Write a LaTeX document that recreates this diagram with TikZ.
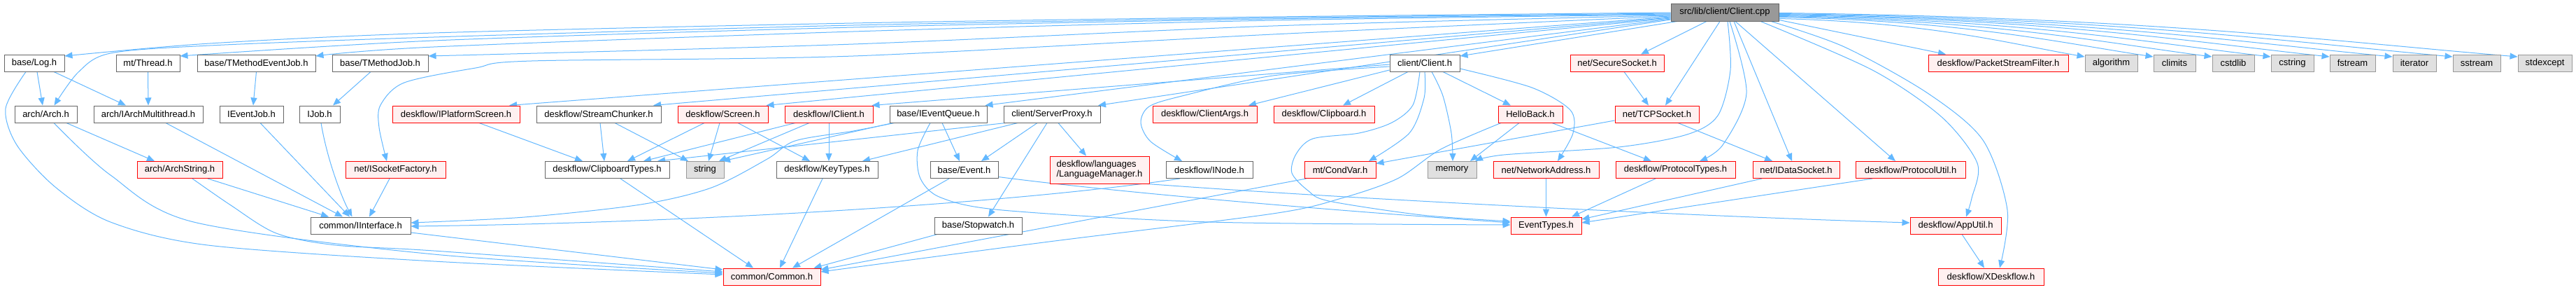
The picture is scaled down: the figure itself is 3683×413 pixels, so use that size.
\documentclass[tikz,border=0pt]{standalone}
\usepackage{fontspec}
\setmainfont{Liberation Sans}
\usetikzlibrary{arrows.meta,backgrounds}
\definecolor{edgecol}{HTML}{63B8FF}
\definecolor{bordgray}{HTML}{666666}
\definecolor{redfill}{HTML}{FFF0F0}
\definecolor{grayfill}{HTML}{E0E0E0}
\definecolor{grayline}{HTML}{999999}
\definecolor{rootfill}{HTML}{999999}
\tikzset{
  box/.style={draw, line width=1pt, minimum height=24pt, inner sep=0pt,
    font=\fontsize{13pt}{14pt}\selectfont, text=black},
  wbox/.style={box, draw=bordgray, fill=white},
  rbox/.style={box, draw=red, fill=redfill},
  gbox/.style={box, draw=grayline, fill=grayfill},
  rootbox/.style={box, draw=bordgray, fill=rootfill, minimum height=25pt},
  edg/.style={draw=edgecol, line width=1pt, -{Triangle[length=11pt,width=9pt]}},
}
\begin{document}
\begin{tikzpicture}[x=1pt,y=-1pt]
\useasboundingbox (0,0) rectangle (3683,413);
% root
\node[rootbox, minimum width=154pt] (root) at (2466,17.5) {src/lib/client/Client.cpp};
% row 1
\node[wbox, minimum width=86pt] (log) at (49,90) {base/Log.h};
\node[wbox, minimum width=91pt] (thread) at (211.5,90) {mt/Thread.h};
\node[wbox, minimum width=169pt] (tmej) at (366.5,90) {base/TMethodEventJob.h};
\node[wbox, minimum width=137pt] (tmj) at (543.5,90) {base/TMethodJob.h};
\node[wbox, minimum width=100pt] (clienth) at (2037,90) {client/Client.h};
\node[rbox, minimum width=134pt] (secsock) at (2312,90) {net/SecureSocket.h};
\node[rbox, minimum width=200pt] (psf) at (2857,90) {deskflow/PacketStreamFilter.h};
\node[gbox, minimum width=75pt] (algorithm) at (3018.5,90) {algorithm};
\node[gbox, minimum width=60pt] (climits) at (3109,90) {climits};
\node[gbox, minimum width=60pt] (cstdlib) at (3193,90) {cstdlib};
\node[gbox, minimum width=61pt] (cstring) at (3277.5,90) {cstring};
\node[gbox, minimum width=65pt] (fstream) at (3363.5,90) {fstream};
\node[gbox, minimum width=62pt] (iterator) at (3452,90) {iterator};
\node[gbox, minimum width=68pt] (sstream) at (3541,90) {sstream};
\node[gbox, minimum width=77pt] (stdexcept) at (3638.5,90) {stdexcept};
% row 2
\node[wbox, minimum width=89pt] (arch) at (65.5,163) {arch/Arch.h};
\node[wbox, minimum width=156pt] (iamt) at (212,163) {arch/IArchMultithread.h};
\node[wbox, minimum width=91pt] (iej) at (359.5,163) {IEventJob.h};
\node[wbox, minimum width=58pt] (ijob) at (457,163) {IJob.h};
\node[rbox, minimum width=182pt] (ips) at (652,163) {deskflow/IPlatformScreen.h};
\node[wbox, minimum width=178pt] (sc) at (856,163) {deskflow/StreamChunker.h};
\node[rbox, minimum width=129pt] (screen) at (1033.5,163) {deskflow/Screen.h};
\node[rbox, minimum width=126pt] (iclient) at (1185,163) {deskflow/IClient.h};
\node[wbox, minimum width=139pt] (ieq) at (1341.5,163) {base/IEventQueue.h};
\node[wbox, minimum width=138pt] (sp) at (1504,163) {client/ServerProxy.h};
\node[rbox, minimum width=149pt] (cargs) at (1722.5,163) {deskflow/ClientArgs.h};
\node[rbox, minimum width=144pt] (clipboard) at (1893,163) {deskflow/Clipboard.h};
\node[rbox, minimum width=92pt] (hello) at (2188,163) {HelloBack.h};
\node[rbox, minimum width=120pt] (tcp) at (2369,163) {net/TCPSocket.h};
% row 3
\node[rbox, minimum width=122pt] (archstr) at (257,242.5) {arch/ArchString.h};
\node[rbox, minimum width=143pt] (isf) at (565.5,242.5) {net/ISocketFactory.h};
\node[wbox, minimum width=178pt] (cbt) at (868,242.5) {deskflow/ClipboardTypes.h};
\node[gbox, minimum width=54pt] (string) at (1008,242.5) {string};
\node[wbox, minimum width=145pt] (kt) at (1182.5,242.5) {deskflow/KeyTypes.h};
\node[wbox, minimum width=97pt] (event) at (1378.5,242.5) {base/Event.h};
\node[rbox, minimum width=142pt, minimum height=39pt, align=left] (lang) at (1572,242.5) {deskflow/languages\\/LanguageManager.h};
\node[wbox, minimum width=124pt] (inode) at (1729,242.5) {deskflow/INode.h};
\node[rbox, minimum width=102pt] (condvar) at (1916,242.5) {mt/CondVar.h};
\node[gbox, minimum width=70pt] (memory) at (2076,242.5) {memory};
\node[rbox, minimum width=151pt] (netaddr) at (2210.5,242.5) {net/NetworkAddress.h};
\node[rbox, minimum width=171pt] (ptypes) at (2395.5,242.5) {deskflow/ProtocolTypes.h};
\node[rbox, minimum width=124pt] (ids) at (2568,242.5) {net/IDataSocket.h};
\node[rbox, minimum width=157pt] (putil) at (2731.5,242.5) {deskflow/ProtocolUtil.h};
% row 4
\node[wbox, minimum width=143pt] (iif) at (515.5,322) {common/IInterface.h};
\node[wbox, minimum width=125pt] (stopwatch) at (1398.5,322) {base/Stopwatch.h};
\node[rbox, minimum width=101pt] (evtypes) at (2210.5,322) {EventTypes.h};
\node[rbox, minimum width=130pt] (apputil) at (2796,322) {deskflow/AppUtil.h};
% row 5
\node[rbox, minimum width=139pt] (common) at (1103.5,395) {common/Common.h};
\node[rbox, minimum width=151pt] (xdf) at (2846.5,395) {deskflow/XDeskflow.h};

\begin{pgfonlayer}{background}
\fill[white] (0,0) rectangle (3683,413);
% ---- root, towards the left
\draw[edg] plot[smooth] coordinates {([yshift=-0.5pt]root.west) (1820,24) (1220,33) (620,47) (300,62) ([yshift=10pt]log.east)};
\draw[edg] plot[smooth] coordinates {([yshift=-1.5pt]root.west) (1820,25.5) (1220,36) (620,53) (300,65) (158,76) (112,103) ([xshift=12pt]arch.north)};
\draw[edg] plot[smooth] coordinates {([yshift=-2.5pt]root.west) (1820,27) (1220,39) (620,58) ([yshift=10pt]thread.east)};
\draw[edg] plot[smooth] coordinates {([yshift=-3.5pt]root.west) (1820,29) (1220,45) (620,67) ([yshift=10pt]tmej.east)};
\draw[edg] plot[smooth] coordinates {([yshift=-4.5pt]root.west) (1820,37) (1220,63) ([yshift=10pt]tmj.east)};
\draw[edg] plot[smooth] coordinates {([yshift=-5.5pt]root.west) (1820,49) (1220,80) (760,87) (680,97) (578,118) (544,150) (542,182) ([xshift=-12.5pt]isf.north)};
\draw[edg] ([yshift=-6.5pt]root.west) -- ([xshift=76pt]ips.north);
\draw[edg] ([yshift=-7.5pt]root.west) -- ([xshift=78pt]sc.north);
\draw[edg] ([yshift=-8.5pt]root.west) -- ([xshift=62pt]screen.north);
\draw[edg] ([yshift=-9.5pt]root.west) -- ([xshift=67pt]ieq.north);
\draw[edg] ([yshift=-10.5pt]root.west) -- ([xshift=66pt]sp.north);
\draw[edg] ([xshift=-68pt]root.south) -- ([yshift=10pt]clienth.east);
% ---- root, downwards
\draw[edg] ([xshift=-26pt]root.south) -- ([xshift=34pt]secsock.north);
\draw[edg] ([xshift=-7pt]root.south) -- ([xshift=12pt]tcp.north);
\draw[edg] plot[smooth] coordinates {([xshift=4pt]root.south) (2474,100) (2456,165) (2412,192) (2314,210) (2150,221) ([xshift=33pt]memory.north)};
\draw[edg] plot[smooth] coordinates {([xshift=7pt]root.south) (2497,133) (2463,207) ([xshift=34.5pt]ptypes.north)};
\draw[edg] ([xshift=13pt]root.south) -- ([xshift=-6pt]ids.north);
\draw[edg] ([xshift=15pt]root.south) -- ([xshift=-21.5pt]putil.north);
\draw[edg] plot[smooth] coordinates {([xshift=51pt]root.south) (2677,100) (2776,167) (2827,233) (2819,283) ([xshift=15pt]apputil.north)};
\draw[edg] plot[smooth] coordinates {([xshift=66pt]root.south) (2637,67) (2756,133) (2835,200) (2870,300) ([xshift=12.5pt]xdf.north)};
% ---- root, towards the right
\draw[edg] ([yshift=-11pt]root.east) -- ([xshift=-75pt]psf.north);
\draw[edg] ([yshift=-9pt]root.east) .. controls (2762,32) and (2871,62) .. ([yshift=9pt]algorithm.west);
\draw[edg] ([yshift=-7pt]root.east) .. controls (2811,30) and (2945,61) .. ([yshift=9pt]climits.west);
\draw[edg] ([yshift=-6pt]root.east) .. controls (2853,29) and (3008,61) .. ([yshift=9pt]cstdlib.west);
\draw[edg] ([yshift=-5pt]root.east) .. controls (2895,28) and (3071,61) .. ([yshift=9pt]cstring.west);
\draw[edg] ([yshift=-4pt]root.east) .. controls (2937,27) and (3134,60) .. ([yshift=9pt]fstream.west);
\draw[edg] ([yshift=-3pt]root.east) .. controls (2982,27) and (3201,60) .. ([yshift=9pt]iterator.west);
\draw[edg] ([yshift=-2pt]root.east) .. controls (3025,26) and (3266,59) .. ([yshift=9pt]sstream.west);
\draw[edg] ([yshift=-1pt]root.east) .. controls (3071,25) and (3336,59) .. ([yshift=9pt]stdexcept.west);
% ---- left part
\draw[edg] ([xshift=4pt]log.south) -- ([xshift=-4.5pt]arch.north);
\draw[edg] ([xshift=28pt]log.south) -- ([xshift=-32pt]iamt.north);
\draw[edg] plot[smooth] coordinates {([xshift=-12pt]log.south) (8,155) (24,207) (79,267) (158,317) (297,350) (620,373) ([yshift=3pt]common.west)};
\draw[edg] ([xshift=29.5pt]arch.south) -- ([xshift=-36pt]archstr.north);
\draw[edg] plot[smooth] coordinates {([xshift=11.5pt]arch.south) (158,250) (277,317) (620,363) ([yshift=5pt]common.west)};
\draw[edg] ([xshift=40pt]archstr.south) -- ([xshift=-45.5pt]iif.north);
\draw[edg] plot[smooth] coordinates {([xshift=18pt]archstr.south) (330,293) (395,333) (480,350) (620,358) ([yshift=7pt]common.west)};
\draw[edg] ([xshift=25pt]iamt.south) -- ([xshift=-25.5pt]iif.north);
\draw[edg] (thread.south) -- (iamt.north);
\draw[edg] (tmej.south) -- ([xshift=2.5pt]iej.north);
\draw[edg] ([xshift=-13.5pt]tmj.south) -- ([xshift=19pt]ijob.north);
\draw[edg] ([xshift=12.5pt]iej.south) -- ([xshift=-15.5pt]iif.north);
\draw[edg] ([xshift=2pt]ijob.south) .. controls (468,230) and (490,285) .. ([xshift=-12pt]iif.north);
\draw[edg] ([xshift=-8.5pt]isf.south) -- ([xshift=12.5pt]iif.north);
\draw[edg] ([yshift=-10pt]iif.east) -- ([yshift=10pt]common.west);
% ---- middle part
\draw[edg] ([xshift=33pt]ips.south) -- ([xshift=-35pt]cbt.north);
\draw[edg] ([xshift=2pt]sc.south) -- ([xshift=-4pt]cbt.north);
\draw[edg] ([xshift=23pt]sc.south) -- ([xshift=-24pt]string.north);
\draw[edg] ([xshift=-26.5pt]screen.south) -- ([xshift=29pt]cbt.north);
\draw[edg] ([xshift=-4.5pt]screen.south) -- ([xshift=5pt]string.north);
\draw[edg] ([xshift=21.5pt]screen.south) -- ([xshift=-24.5pt]kt.north);
\draw[edg] ([xshift=-48pt]iclient.south) -- ([xshift=52pt]cbt.north);
\draw[edg] ([xshift=-28pt]iclient.south) -- ([xshift=20pt]string.north);
\draw[edg] (iclient.south) -- ([xshift=2.5pt]kt.north);
\draw[edg] ([xshift=-65pt]ieq.south) -- ([xshift=25pt]string.north);
\draw[edg] plot[smooth] coordinates {([xshift=-63pt]ieq.south) (1220,187) (1137,201) (1097,227) (1017,268) (916,292) (750,310) ([yshift=4pt]iif.east)};
\draw[edg] ([xshift=5.5pt]ieq.south) -- ([xshift=-6.5pt]event.north);
\draw[edg] plot[smooth] coordinates {([xshift=-11.5pt]ieq.south) (1312,215) (1316,255) (1345,282) (1433,300) (1730,317) ([yshift=1pt]evtypes.west)};
\draw[edg] ([xshift=-66pt]sp.south) -- ([xshift=72pt]cbt.north);
\draw[edg] ([xshift=-49pt]sp.south) -- ([xshift=50.5pt]kt.north);
\draw[edg] ([xshift=-21pt]sp.south) -- ([xshift=24.5pt]event.north);
\draw[edg] ([xshift=-7pt]sp.south) -- ([xshift=14.5pt]stopwatch.north);
\draw[edg] ([xshift=9pt]sp.south) -- ([xshift=-19pt]lang.north);
\draw[edg] ([xshift=-21.5pt]event.south) -- ([xshift=29.5pt]common.north);
\draw[edg] ([yshift=-10pt]event.east) .. controls (1600,275) and (1900,300) .. ([yshift=4pt]evtypes.west);
\draw[edg] ([xshift=-42pt]inode.south) .. controls (1450,290) and (1000,318) .. ([yshift=-1pt]iif.east);
\draw[edg] ([xshift=-3pt]lang.south east) .. controls (1900,282) and (2400,308) .. ([yshift=4pt]apputil.west);
\draw[edg] ([xshift=-58.5pt]stopwatch.south) -- ([xshift=60pt]common.north);
\draw[edg] ([xshift=-6.5pt]kt.south) -- ([xshift=11.5pt]common.north);
\draw[edg] ([xshift=19pt]cbt.south) -- ([xshift=-26.5pt]common.north);
\draw[edg] ([xshift=3pt]condvar.south west) -- ([yshift=10pt]common.east);
\draw[edg] plot[smooth] coordinates {([xshift=-42pt]hello.south) (2060,213) (1998,255) (1918,283) (1820,305) (1500,345) ([yshift=7pt]common.east)};
% ---- client/Client.h
\draw[edg] ([xshift=-24pt]clienth.south) -- ([xshift=27pt]clipboard.north);
\draw[edg] plot[smooth] coordinates {(clienth.south) (2036,140) (2015,190) ([xshift=41pt]condvar.north)};
\draw[edg] plot[smooth] coordinates {([xshift=10pt]clienth.south) (2063,137) (2075,190) ([xshift=1pt]memory.north)};
\draw[edg] ([xshift=26pt]clienth.south) -- ([xshift=-28pt]hello.north);
\draw[edg] plot[smooth] coordinates {([yshift=-8pt]clienth.east) (2190,125) (2245,157) (2249,190) ([xshift=16.5pt]netaddr.north)};
\draw[edg] plot[smooth] coordinates {([xshift=-7pt]clienth.south) (2020,150) (1990,175) (1943,190) (1877,198) (1853,220) (1847,247) (1870,272) (1900,287) (2033,307) ([yshift=6pt]evtypes.west)};
\draw[edg] plot[smooth] coordinates {([yshift=-5pt]clienth.west) (1820,108) (1690,137) (1643,152) (1631,175) (1645,202) ([xshift=-39pt]inode.north)};
\draw[edg] ([yshift=-10pt]clienth.west) -- ([xshift=62.5pt]cargs.north);
\draw[edg] ([yshift=-2pt]clienth.west) -- ([xshift=-2pt]iclient.north east);
% ---- right part
\draw[edg] ([xshift=-16pt]hello.south) -- ([xshift=26pt]memory.north);
\draw[edg] ([xshift=31pt]hello.south) -- ([xshift=-34.5pt]ptypes.north);
\draw[edg] ([xshift=10pt]secsock.south) -- ([xshift=-12pt]tcp.north);
\draw[edg] ([yshift=-9pt]tcp.west) -- ([yshift=9pt]condvar.east);
\draw[edg] ([xshift=30pt]tcp.south) -- ([xshift=-34pt]ids.north);
\draw[edg] (netaddr.south) -- (evtypes.north);
\draw[edg] ([xshift=-28.5pt]ptypes.south) -- ([xshift=36.5pt]evtypes.north);
\draw[edg] ([xshift=-49pt]ids.south) -- ([yshift=9pt]evtypes.east);
\draw[edg] ([xshift=-54.5pt]putil.south) -- ([yshift=4pt]evtypes.east);
\draw[edg] ([xshift=9pt]apputil.south) -- ([xshift=-9.5pt]xdf.north);
\end{pgfonlayer}
\end{tikzpicture}
\end{document}
